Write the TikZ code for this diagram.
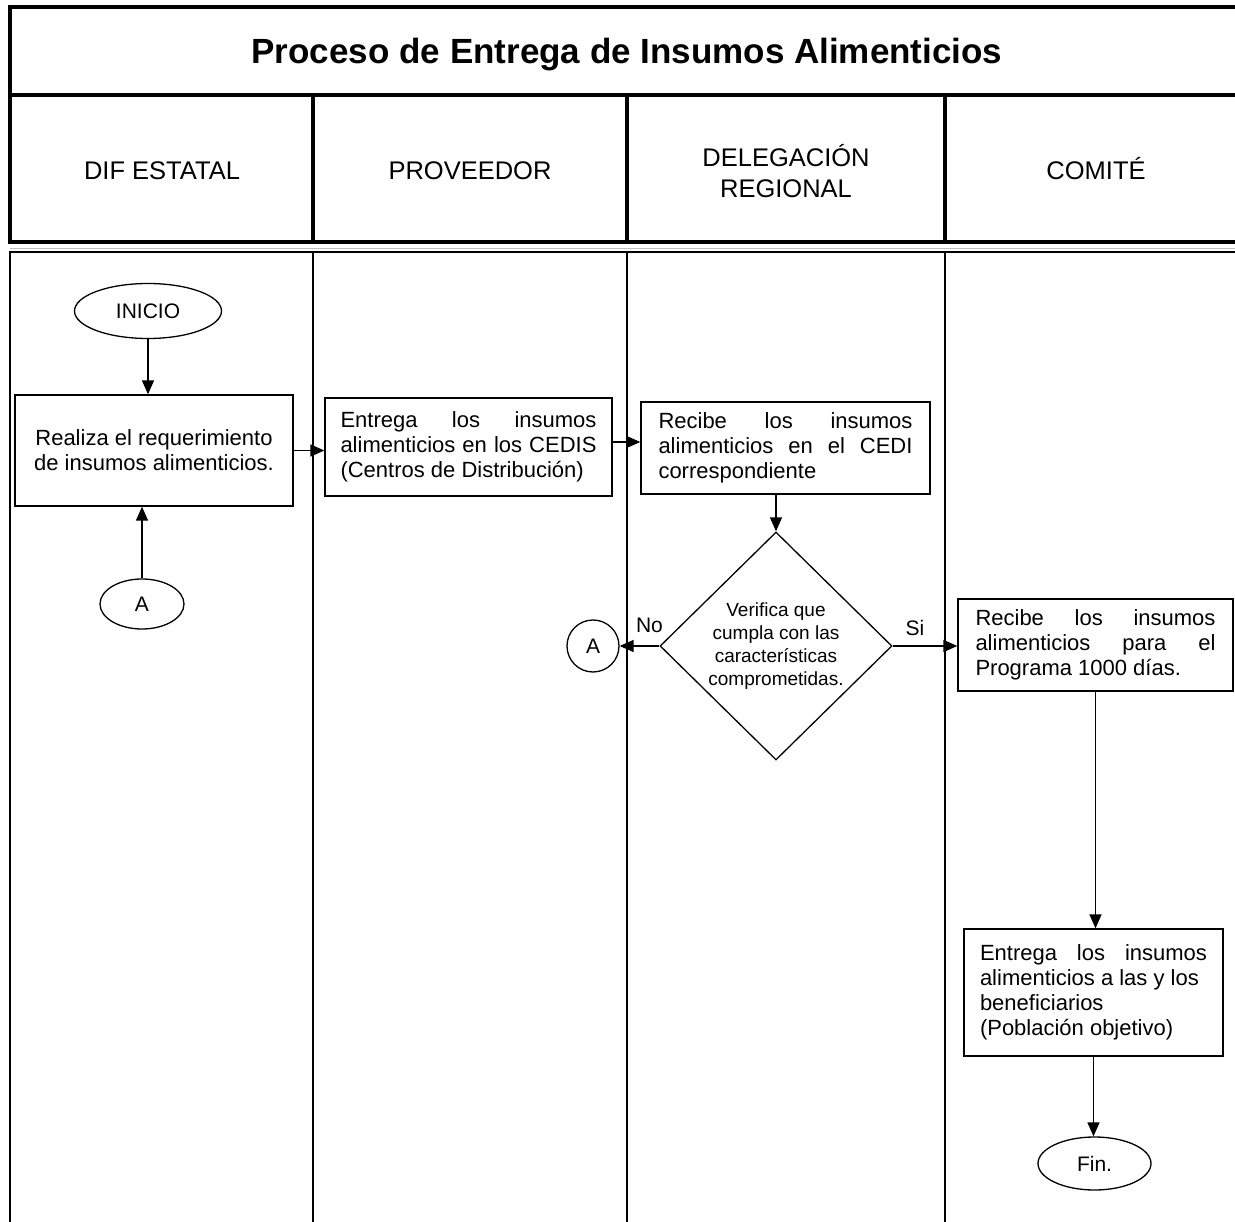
\documentclass[tikz,border=0pt]{standalone}
\usepackage{fontspec}
\setmainfont{Liberation Sans}
\usetikzlibrary{arrows.meta,shapes.geometric}
\setlength{\parindent}{0pt}
\hyphenpenalty=10000
\exhyphenpenalty=10000
\tolerance=9999
\emergencystretch=20pt
\begin{document}
\begin{tikzpicture}[x=1pt,y=-1pt,
  hdrline/.style={line width=4pt},
  laneline/.style={line width=2pt},
  procbox/.style={draw, rectangle, line width=1.3pt, inner sep=0pt, font=\fontsize{22}{25}\selectfont},
  termnode/.style={draw, ellipse, line width=1.3pt, inner sep=0pt, font=\fontsize{21}{25}\selectfont},
  decnode/.style={draw, diamond, line width=1.3pt, inner sep=0pt, font=\fontsize{19}{23}\selectfont, align=center},
  hlabel/.style={font=\fontsize{25.5}{31}\selectfont},
  flowarrow/.style={line width=1.4pt, -{Triangle[length=14pt,width=12pt]}},
  flowlabel/.style={font=\fontsize{21}{25}\selectfont, anchor=base, inner sep=0pt}
]
\useasboundingbox (0,0) rectangle (1235,1222);
\fill[white] (0,0) rectangle (1235,1222);

% header frame
\draw[hdrline] (1240,7) -- (10,7) -- (10,242) -- (1240,242);
\draw[hdrline] (10,95) -- (1240,95);
\draw[hdrline] (313,95) -- (313,242);
\draw[hdrline] (627,95) -- (627,242);
\draw[hdrline] (945,95) -- (945,242);

% body lanes
\draw[line width=1pt, gray!50] (10,249) -- (1240,249);
\draw[laneline] (1240,252) -- (10,252) -- (10,1230);
\draw[laneline] (313,252) -- (313,1230);
\draw[laneline] (627,252) -- (627,1230);
\draw[laneline] (945,252) -- (945,1230);

% titles
\node[font=\fontsize{35}{40}\selectfont\bfseries, anchor=base, inner sep=0pt] (title) at (627,64) {Proceso de Entrega de Insumos Alimenticios};
\node[hlabel, anchor=base, inner sep=0pt] (l1) at (162,180) {DIF ESTATAL};
\node[hlabel, anchor=base, inner sep=0pt] (l2) at (470,180) {PROVEEDOR};
\node[hlabel, align=center, inner sep=0pt] (l3) at (786,171) {DELEGACIÓN\\REGIONAL};
\node[hlabel, anchor=base, inner sep=0pt] (l4) at (1096,180) {COMITÉ};

% nodes
\node[termnode, minimum width=147pt, minimum height=55pt] (inicio) at (148,311) {INICIO};
\node[procbox, minimum width=278pt, minimum height=111pt, align=center] (b1) at (154,450.5) {Realiza el requerimiento\\de insumos alimenticios.};
\node[termnode, minimum width=84pt, minimum height=50pt] (a1) at (142,604) {A};
\node[procbox, minimum width=287pt, minimum height=98pt, text width=256pt, align=justify] (b2) at (468.5,447) {Entrega los insumos\linebreak alimenticios en los CEDIS\linebreak (Centros de Distribución)};
\node[procbox, minimum width=289pt, minimum height=92pt, text width=254pt, align=justify] (b3) at (785.5,448) {Recibe los insumos\linebreak alimenticios en el CEDI\linebreak correspondiente};
\node[decnode, minimum width=232pt, minimum height=228pt] (d) at (776,646) {Verifica que\\cumpla con las\\características\\comprometidas.};
\node[termnode, minimum width=52pt, minimum height=52pt] (a2) at (593,646) {A};
\node[procbox, minimum width=275pt, minimum height=92pt, text width=240pt, align=justify] (b4) at (1095.5,645) {Recibe los insumos\linebreak alimenticios para el\linebreak Programa 1000 días.};
\node[procbox, minimum width=259pt, minimum height=127pt, text width=227pt, align=justify] (b5) at (1093.5,992.5) {Entrega los insumos\linebreak alimenticios a las y los\\beneficiarios\\(Población objetivo)};
\node[termnode, minimum width=113pt, minimum height=53pt] (fin) at (1094.5,1163.5) {Fin.};

% labels
\node[flowlabel] (no) at (649.5,632) {No};
\node[flowlabel] (si) at (915,635) {Si};

% connectors
\draw[flowarrow] (inicio.south) -- (inicio.south |- b1.north);
\draw[flowarrow] (a1.north) -- (a1.north |- b1.south);
\draw[flowarrow] (b1.east) -- (b1.east -| b2.west);
\draw[flowarrow] ([yshift=5pt]b2.east) -- ([yshift=5pt]b2.east -| b3.west);
\draw[flowarrow] (d.north |- b3.south) -- (d.north);
\draw[flowarrow] (d.west) -- (a2.east);
\draw[flowarrow] (d.east) -- (d.east -| b4.west);
\draw[flowarrow] (b4.south) -- (b4.south |- b5.north);
\draw[flowarrow] (b5.south) -- (b5.south |- fin.north);
\end{tikzpicture}
\end{document}
